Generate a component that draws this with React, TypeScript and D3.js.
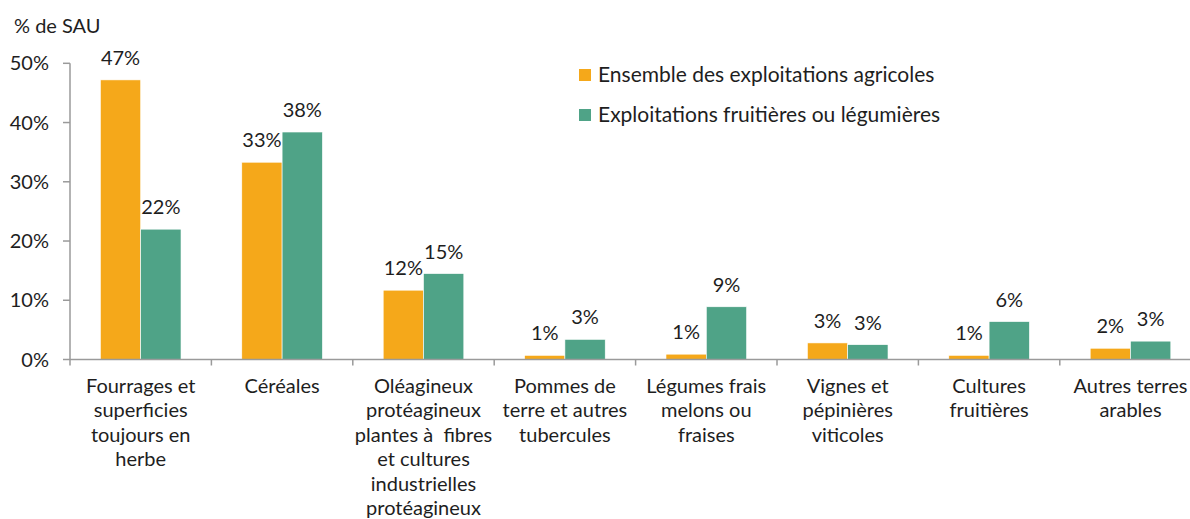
import React from "react";
import * as d3 from "d3";

const categories = [
  ["Fourrages et", "superficies", "toujours en", "herbe"],
  ["Céréales"],
  ["Oléagineux", "protéagineux", "plantes à\u00a0 fibres", "et cultures", "industrielles", "protéagineux"],
  ["Pommes de", "terre et autres", "tubercules"],
  ["Légumes frais", "melons ou", "fraises"],
  ["Vignes et", "pépinières", "viticoles"],
  ["Cultures", "fruitières"],
  ["Autres terres", "arables"],
];

const seriesNames = ["Ensemble des exploitations agricoles", "Exploitations fruitières ou légumières"];
const ensemble = [47.2, 33.3, 11.7, 0.7, 0.9, 2.8, 0.7, 1.9];
const fruitLeg = [22.0, 38.4, 14.5, 3.4, 8.9, 2.5, 6.4, 3.1];
const labelsEnsemble = ["47%", "33%", "12%", "1%", "1%", "3%", "1%", "2%"];
const labelsFruitLeg = ["22%", "38%", "15%", "3%", "9%", "3%", "6%", "3%"];
const yTicks = [0, 10, 20, 30, 40, 50];

const colors = ["#F5A81A", "#4FA387"];
const FONT = "Lato, 'Open Sans', sans-serif";

export default function App() {
  const width = 1190;
  const height = 519;
  const left = 70;
  const step = 141.4;
  const bottom = 359.5;
  const top = 63.3;

  const idx = categories.map((_, i) => String(i));
  const x0 = d3.scaleBand().domain(idx).range([left, left + step * categories.length]).padding(0);
  const x1 = d3.scaleBand().domain(["0", "1"]).range([0, x0.bandwidth()]).paddingInner(0).paddingOuter(0.754);
  const y = d3.scaleLinear().domain([0, 50]).range([bottom, top]);

  const series = [
    { values: ensemble, labels: labelsEnsemble },
    { values: fruitLeg, labels: labelsFruitLeg },
  ];

  const axisColor = "#9a9a9a";
  const textColor = "#1e1e1e";
  const fs = 20;

  return (
    <svg
      width={width}
      height={height}
      style={{ position: "absolute", left: 0, top: 0, fontFamily: FONT }}
    >
      <rect width={width} height={height} fill="#fff" />
      <text x={14} y={33} fontSize={fs} fill={textColor}>% de SAU</text>

      {/* y axis */}
      <line x1={left} x2={left} y1={top} y2={bottom} stroke={axisColor} strokeWidth={1.5} />
      {yTicks.map((t) => (
        <g key={t}>
          <line x1={left - 7} x2={left} y1={y(t)} y2={y(t)} stroke={axisColor} strokeWidth={1.5} />
          <text x={49} y={y(t)} dy="0.35em" textAnchor="end" fontSize={fs} fill={textColor}>
            {t}%
          </text>
        </g>
      ))}

      {/* bars */}
      {series.map((s, si) =>
        s.values.map((v, i) => {
          const bx = (x0(String(i)) as number) + (x1(String(si)) as number);
          return (
            <g key={`${si}-${i}`}>
              <rect
                x={bx}
                y={y(v)}
                width={x1.bandwidth()}
                height={bottom - y(v)}
                fill={colors[si]}
                stroke="#fff"
                strokeWidth={0.6}
              />
              <text
                x={bx + x1.bandwidth() / 2}
                y={y(v) - 15}
                textAnchor="middle"
                fontSize={fs}
                fill={textColor}
              >
                {s.labels[i]}
              </text>
            </g>
          );
        })
      )}

      {/* x axis */}
      <line x1={left} x2={width} y1={bottom} y2={bottom} stroke={axisColor} strokeWidth={1.5} />
      {idx.map((d) => (
        <line
          key={d}
          x1={x0(d) as number}
          x2={x0(d) as number}
          y1={bottom}
          y2={bottom + 6}
          stroke={axisColor}
          strokeWidth={1.5}
        />
      ))}
      {categories.map((lines, i) => (
        <text
          key={i}
          x={(x0(String(i)) as number) + x0.bandwidth() / 2}
          y={393}
          textAnchor="middle"
          fontSize={fs}
          fill={textColor}
        >
          {lines.map((l, j) => (
            <tspan key={j} x={(x0(String(i)) as number) + x0.bandwidth() / 2} dy={j === 0 ? 0 : 24.4}>
              {l}
            </tspan>
          ))}
        </text>
      ))}

      {/* legend */}
      {seriesNames.map((name, i) => (
        <g key={name} transform={`translate(579, ${69 + i * 40})`}>
          <rect width={12} height={12} fill={colors[i]} />
          <text x={19} y={6} dy="0.35em" fontSize={21} fill={textColor}>
            {name}
          </text>
        </g>
      ))}
    </svg>
  );
}
